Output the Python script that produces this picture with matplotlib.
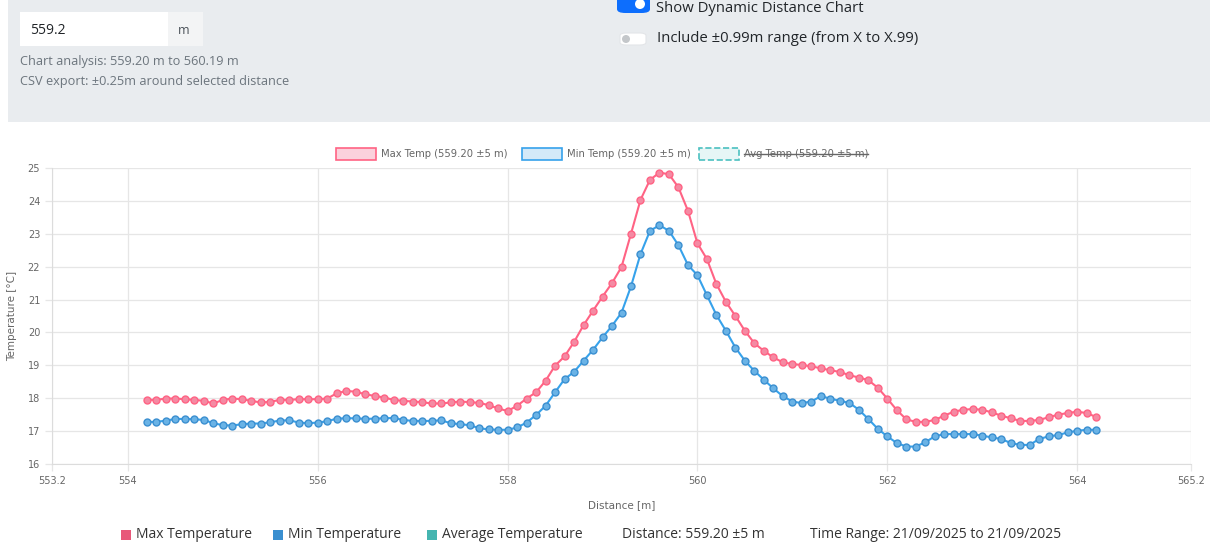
import matplotlib
matplotlib.use("Agg")
import matplotlib.pyplot as plt
from matplotlib.patches import Rectangle, FancyBboxPatch, Ellipse
import numpy as np

W, H = 1210, 546

# distance samples, 0.1 m apart, 559.20 +/- 5 m
dist_start = 554.2
dist_step = 0.1

max_temp = [
    17.95, 17.95, 17.99, 17.99, 17.97, 17.95, 17.92, 17.84, 17.95, 17.99,
    17.97, 17.92, 17.87, 17.89, 17.95, 17.95, 17.97, 17.97, 17.97, 17.99,
    18.15, 18.22, 18.20, 18.12, 18.07, 18.02, 17.95, 17.92, 17.90, 17.88,
    17.84, 17.84, 17.87, 17.90, 17.88, 17.86, 17.79, 17.69, 17.61, 17.77,
    17.99, 18.18, 18.53, 18.99, 19.27, 19.71, 20.22, 20.66, 21.09, 21.50,
    21.99, 23.00, 24.03, 24.64, 24.86, 24.81, 24.41, 23.70, 22.71, 22.23,
    21.47, 20.93, 20.50, 20.05, 19.67, 19.44, 19.24, 19.09, 19.04, 19.01,
    18.97, 18.91, 18.85, 18.80, 18.70, 18.63, 18.55, 18.32, 17.99, 17.64,
    17.36, 17.28, 17.28, 17.34, 17.47, 17.59, 17.65, 17.67, 17.65, 17.57,
    17.47, 17.39, 17.31, 17.31, 17.34, 17.42, 17.50, 17.55, 17.59, 17.55,
    17.43,
]
min_temp = [
    17.28, 17.28, 17.32, 17.37, 17.37, 17.36, 17.34, 17.24, 17.18, 17.17,
    17.21, 17.23, 17.23, 17.27, 17.32, 17.33, 17.26, 17.24, 17.26, 17.30,
    17.38, 17.39, 17.39, 17.37, 17.38, 17.39, 17.40, 17.34, 17.31, 17.31,
    17.31, 17.33, 17.24, 17.21, 17.18, 17.09, 17.05, 17.04, 17.04, 17.11,
    17.26, 17.49, 17.77, 18.18, 18.58, 18.80, 19.14, 19.47, 19.85, 20.20,
    20.60, 21.40, 22.38, 23.09, 23.26, 23.09, 22.65, 22.05, 21.74, 21.13,
    20.53, 20.05, 19.54, 19.14, 18.83, 18.56, 18.30, 18.06, 17.90, 17.85,
    17.90, 18.06, 17.99, 17.92, 17.86, 17.65, 17.37, 17.07, 16.84, 16.64,
    16.53, 16.53, 16.66, 16.84, 16.91, 16.91, 16.91, 16.91, 16.86, 16.81,
    16.76, 16.64, 16.58, 16.58, 16.76, 16.84, 16.88, 16.96, 17.01, 17.04,
    17.04,
]
dist = dist_start + dist_step * np.arange(len(max_temp))

x_ticks = [553.2, 554, 556, 558, 560, 562, 564, 565.2]
x_labels = ["553.2", "554", "556", "558", "560", "562", "564", "565.2"]
y_ticks = list(range(16, 26))

RED = "#ff6384"
BLUE = "#36a2eb"
TEAL = "#4bc0c0"


def fx(x):
    return x / W


def fy(y):
    return 1 - y / H


def knob(x, y, r, color):
    # round knob given in pixels
    return Ellipse((fx(x), fy(y)), 2 * r / W, 2 * r / H,
                   transform=fig.transFigure, facecolor=color,
                   edgecolor="none", zorder=3)


fig = plt.figure(figsize=(W / 100, H / 100), dpi=100)
fig.patch.set_facecolor("white")

# grey settings panel
fig.patches.append(Rectangle((fx(8), fy(122)), fx(W - 8), 122 / H,
                             transform=fig.transFigure, facecolor="#e9ecef",
                             edgecolor="none", zorder=0))
# input group
fig.patches.append(Rectangle((fx(20), fy(46)), fx(148), 34 / H,
                             transform=fig.transFigure, facecolor="white",
                             edgecolor="none", zorder=1))
fig.patches.append(Rectangle((fx(168), fy(46)), fx(35), 34 / H,
                             transform=fig.transFigure, facecolor="#f3f4f5",
                             edgecolor="none", zorder=1))

ui_font = "Open Sans"
fig.text(fx(30), fy(30), "559.2", fontsize=10, color="#212529",
         family=ui_font, va="center", ha="left")
fig.text(fx(184), fy(30), "m", fontsize=9, color="#495057",
         family=ui_font, va="center", ha="center")
fig.text(fx(20), fy(61), "Chart analysis: 559.20 m to 560.19 m", fontsize=9.2,
         color="#6c757d", family=ui_font, va="center", ha="left")
fig.text(fx(20), fy(81), "CSV export: \u00b10.25m around selected distance",
         fontsize=9.2, color="#6c757d", family=ui_font, va="center", ha="left")

# toggle switches
fig.patches.append(FancyBboxPatch((fx(617), fy(13)), fx(33), 19 / H,
                                  boxstyle="round,pad=0,rounding_size=0.007",
                                  transform=fig.transFigure, facecolor="#0d6efd",
                                  edgecolor="none", zorder=2))
fig.patches.append(knob(640, 4, 5, "white"))
fig.text(fx(656), fy(8), "Show Dynamic Distance Chart", fontsize=10.7,
         color="#212529", family=ui_font, va="center", ha="left")
fig.patches.append(FancyBboxPatch((fx(620), fy(45)), fx(26), 12 / H,
                                  boxstyle="round,pad=0,rounding_size=0.005",
                                  transform=fig.transFigure, facecolor="white",
                                  edgecolor="#e3e5e8", lw=0.8, zorder=2))
fig.patches.append(knob(626, 39, 4, "#c4c7ca"))
fig.text(fx(657), fy(39), "Include \u00b10.99m range (from X to X.99)",
         fontsize=10.7, color="#212529", family=ui_font, va="center", ha="left")

# chart
ax = fig.add_axes([fx(52), fy(464), (1191 - 52) / W, (464 - 168) / H])
ax.plot(dist, max_temp, color=RED, lw=1.5, marker="o", ms=5,
        mfc="#f48aa3", mec=RED, mew=1.0, zorder=3)
ax.plot(dist, min_temp, color=BLUE, lw=1.5, marker="o", ms=5,
        mfc="#6ab3e6", mec="#3b8fd0", mew=1.0, zorder=3)
ax.set_xlim(553.2, 565.2)
ax.set_ylim(16, 25)
ax.set_xticks(x_ticks)
ax.set_xticklabels(x_labels)
ax.set_yticks(y_ticks)
ax.grid(True, color="#e6e6e6", lw=0.9)
ax.set_axisbelow(True)
for side in ["top", "right"]:
    ax.spines[side].set_visible(False)
for side in ["left", "bottom"]:
    ax.spines[side].set_color("#dcdcdc")
ax.tick_params(colors="#666666", labelsize=7, length=5, width=0.9,
               labelcolor="#666666")
ax.tick_params(axis="both", color="#e6e6e6")
ax.set_xlabel("Distance [m]", fontsize=7.5, color="#666666", labelpad=10)
ax.set_ylabel("Temperature [\u00b0C]", fontsize=7.5, color="#666666", labelpad=8)

# dataset legend above the chart
legend_items = [
    (336, "#fbd1dc", RED, "-", "Max Temp (559.20 \u00b15 m)", False),
    (522, "#d3e9f8", BLUE, "-", "Min Temp (559.20 \u00b15 m)", False),
    (699, "#e6f6f6", TEAL, "--", "Avg Temp (559.20 \u00b15 m)", True),
]
for x0, fc, ec, ls, label, hidden in legend_items:
    fig.patches.append(Rectangle((fx(x0), fy(160)), fx(40), 12 / H,
                                 transform=fig.transFigure, facecolor=fc,
                                 edgecolor=ec, lw=1.2, linestyle=ls, zorder=2))
    t = fig.text(fx(x0 + 45), fy(154), label, fontsize=7.2, color="#666666",
                 va="center", ha="left")
    if hidden:
        fig.canvas.draw()
        bb = t.get_window_extent()
        fig.add_artist(plt.Line2D([bb.x0 / W, bb.x1 / W], [fy(154), fy(154)],
                                  color="#666666", lw=1, transform=fig.transFigure))

# summary legend below the chart
for x0, c, label in [(121, "#e8587a", "Max Temperature"),
                     (273, "#3a8fd0", "Min Temperature"),
                     (427, "#45b5b0", "Average Temperature")]:
    fig.patches.append(Rectangle((fx(x0), fy(540)), fx(10), 10 / H,
                                 transform=fig.transFigure, facecolor=c,
                                 edgecolor="none"))
    fig.text(fx(x0 + 15), fy(535), label, fontsize=10, color="#333333",
             family=ui_font, va="center", ha="left")
fig.text(fx(622), fy(535), "Distance: 559.20 \u00b15 m", fontsize=10,
         color="#333333", family=ui_font, va="center", ha="left")
fig.text(fx(810), fy(535), "Time Range: 21/09/2025 to 21/09/2025", fontsize=10,
         color="#333333", family=ui_font, va="center", ha="left")

fig.savefig("out.png", dpi=100)
